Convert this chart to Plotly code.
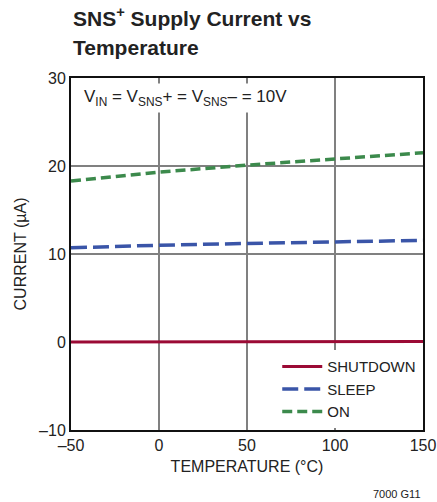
import plotly.graph_objects as go

temps = [-50, 0, 50, 100, 150]
shutdown = [0.0, 0.0, 0.02, 0.04, 0.06]
sleep = [10.7, 11.0, 11.2, 11.4, 11.55]
on = [18.3, 19.3, 20.1, 20.8, 21.5]

xticks = [-50, 0, 50, 100, 150]
yticks = [-10, 0, 10, 20, 30]

FONT = "Liberation Sans Narrow, Arial Narrow, Liberation Sans, sans-serif"

fig = go.Figure()
fig.add_trace(go.Scatter(x=temps, y=shutdown, mode="lines", name="SHUTDOWN",
                         line=dict(color="#9B0A35", width=3)))
fig.add_trace(go.Scatter(x=temps, y=sleep, mode="lines", name="SLEEP",
                         line=dict(color="#3A55A8", width=3.5, dash="16px,6px")))
fig.add_trace(go.Scatter(x=temps, y=on, mode="lines", name="ON",
                         line=dict(color="#3C8A4C", width=3.5, dash="10px,5px")))

fig.update_layout(
    width=437, height=502,
    autosize=False,
    margin=dict(l=71, r=14, t=78, b=72, autoexpand=False),
    paper_bgcolor="white", plot_bgcolor="white",
    font=dict(family=FONT, size=16, color="#222"),
    showlegend=True,
    legend=dict(x=0.995, y=0.005, xanchor="right", yanchor="bottom",
                bgcolor="white", font=dict(size=15), tracegroupgap=0,
                itemwidth=40),
)
fig.update_xaxes(range=[-50, 150], tickvals=xticks, ticktext=["–50" if v < 0 else str(v) for v in xticks],
                 showgrid=True, gridcolor="#808080", gridwidth=1.5,
                 showline=True, linecolor="#111", linewidth=2, mirror=True,
                 zeroline=False, ticks="", ticklen=0, automargin=False,
                 title=dict(text="TEMPERATURE (°C)", standoff=8, font=dict(size=16)))
fig.update_yaxes(range=[-10, 30], tickvals=yticks, ticktext=["–10" if v < 0 else str(v) for v in yticks],
                 showgrid=True, gridcolor="#808080", gridwidth=1.5,
                 showline=True, linecolor="#111", linewidth=2, mirror=True,
                 zeroline=False, ticks="", ticklen=0, automargin=False,
                 title=dict(text="CURRENT (µA)", standoff=8, font=dict(size=16)))

fig.add_annotation(text="<b>SNS<sup>+</sup> Supply Current vs</b>",
                   xref="paper", yref="paper", x=0.0, y=1.0, xanchor="left", yanchor="bottom",
                   yshift=46, showarrow=False, font=dict(size=21, color="#222"))
fig.add_annotation(text="<b>Temperature</b>",
                   xref="paper", yref="paper", x=0.0, y=1.0, xanchor="left", yanchor="bottom",
                   yshift=17, showarrow=False, font=dict(size=21, color="#222"))
fig.add_annotation(text="V<sub>IN</sub> = V<sub>SNS</sub>+ = V<sub>SNS</sub>– = 10V",
                   xref="paper", yref="paper", x=0.025, y=0.985, xanchor="left", yanchor="top",
                   showarrow=False, bgcolor="white", font=dict(size=17, color="#222"),
                   borderpad=3)
fig.add_annotation(text="7000 G11", xref="paper", yref="paper", x=1.0, y=0.0,
                   xanchor="right", yanchor="top", yshift=-56, showarrow=False,
                   font=dict(size=11, color="#222"))

fig.write_html("out.html", config={"displayModeBar": False},
               post_script="document.body.style.margin='0';document.body.style.overflow='hidden';")
